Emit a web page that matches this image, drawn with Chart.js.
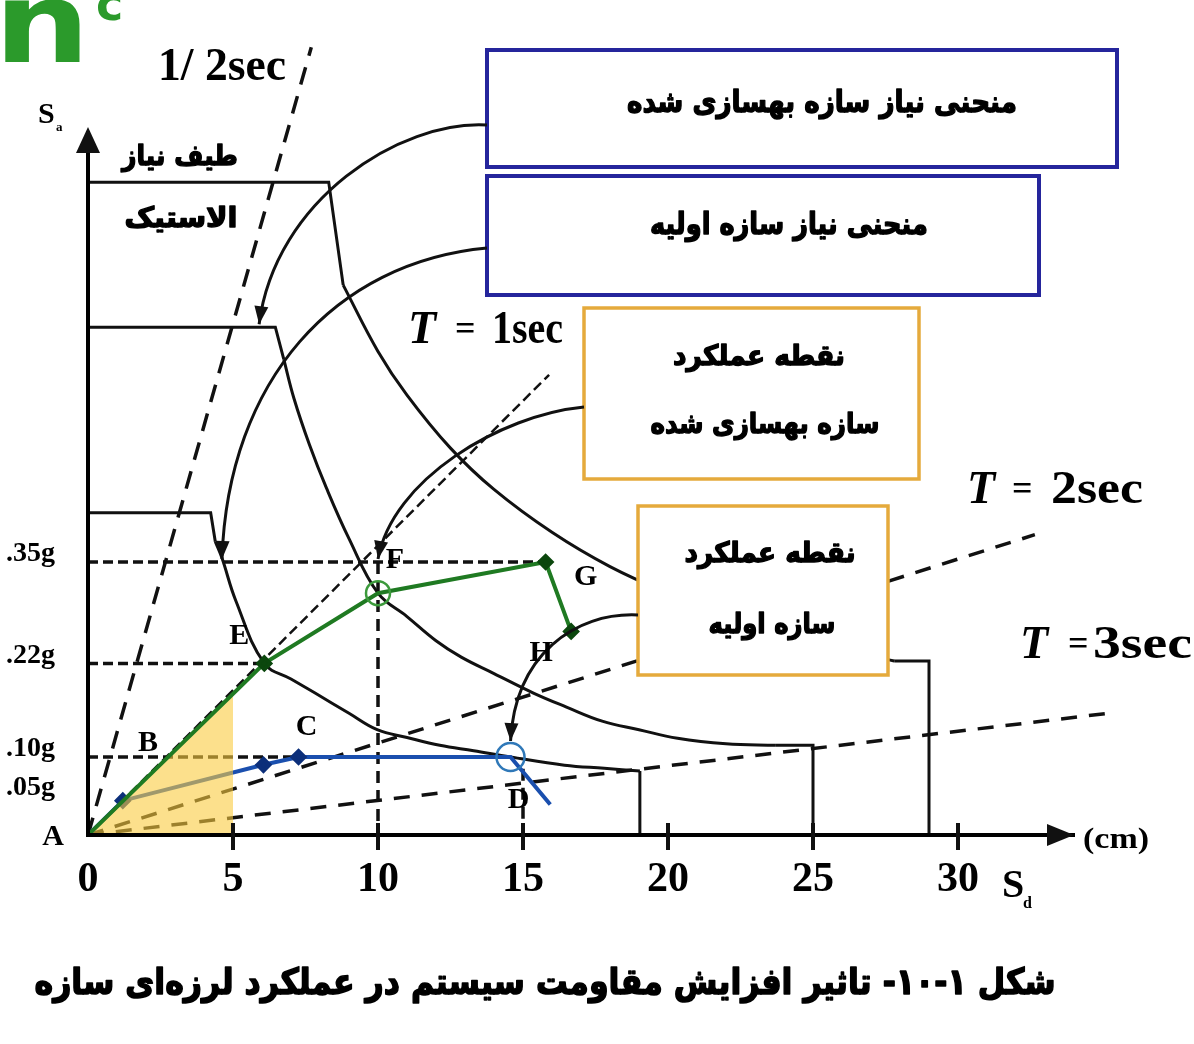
<!DOCTYPE html>
<html lang="fa">
<head>
<meta charset="utf-8">
<title>Sa - Sd</title>
<script src="https://cdn.jsdelivr.net/npm/chart.js@4.4.1/dist/chart.umd.min.js"></script>
<style>
  html, body { margin: 0; padding: 0; background: #ffffff; }
  canvas { display: block; }
</style>
</head>
<body>
<canvas id="chart" width="1194" height="1044"></canvas>
<script>
// Axis ticks
const xTickValues = [0, 5, 10, 15, 20, 25, 30];
const yTickValues = [0.05, 0.10, 0.22, 0.35];
const yTickLabels = ['.05g', '.10g', '.22g', '.35g'];

// Elastic demand spectrum (Sd in cm, Sa in g)
const elasticSd = [0, 8.3, 8.8, 10, 11, 12.5, 14, 16, 18, 20, 22, 24, 26, 27.8, 29, 29];
const elasticSa = [0.837, 0.837, 0.705, 0.62, 0.564, 0.496, 0.443, 0.388, 0.344, 0.31, 0.282, 0.258, 0.238, 0.223, 0.223, 0];

// Demand curve of the retrofitted structure
const retrofitDemandSd = [0, 6.46, 6.75, 7.1, 7.64, 8.22, 9.0, 10, 11, 12, 12.87, 14, 15.36, 16.5, 17.73, 19, 20.33, 22, 23.72, 25, 25];
const retrofitDemandSa = [0.651, 0.651, 0.61, 0.56, 0.50, 0.445, 0.38, 0.31, 0.28, 0.249, 0.228, 0.207, 0.182, 0.164, 0.146, 0.135, 0.124, 0.117, 0.115, 0.115, 0];

// Demand curve of the initial structure
const initialDemandSd = [0, 4.23, 4.39, 4.62, 5.1, 6.08, 7.0, 7.83, 9.0, 9.97, 11, 12.13, 13.3, 14.57, 16.43, 17.8, 19.03, 19.03];
const initialDemandSa = [0.413, 0.413, 0.376, 0.355, 0.30, 0.22, 0.20, 0.182, 0.156, 0.135, 0.125, 0.115, 0.108, 0.10, 0.0895, 0.0855, 0.082, 0];

// Capacity curves
const capacityRetrofitSd = [0, 6.08, 10, 15.78, 16.66];
const capacityRetrofitSa = [0, 0.22, 0.31, 0.35, 0.261];
const capacityInitialSd = [0, 1.2, 6.05, 7.26, 14.57, 15.94];
const capacityInitialSa = [0, 0.044, 0.09, 0.10, 0.10, 0.039];

// Constant-period radial lines (end points, from the origin)
const periodNames = ['1/2sec', '1sec', '2sec', '3sec'];
const periodEndSd = [7.7, 15.9, 32.65, 35.4];
const periodEndSa = [1.01, 0.59, 0.385, 0.157];

// Horizontal reference levels and vertical guide lines
const levelSa = [0.35, 0.22, 0.10];
const levelEndSd = [15.78, 6.08, 7.26];
const guideSd = [10, 15];
const guideTopSa = [0.35, 0.085];

// Shaded area under the capacity curve up to Sd = 5 cm
const shadedSd = [0, 5];
const shadedSa = [0, 0.181];

// Performance points (retrofitted, initial)
const performanceSd = [10, 14.57];
const performanceSa = [0.31, 0.10];

// Point letters and the values they sit next to
const letterNames = ['A', 'B', 'C', 'D', 'E', 'F', 'G', 'H'];
const letterSd = [0, 2.76, 7.26, 14.57, 6.08, 10, 15.78, 16.66];
const letterSa = [0, 0.10, 0.10, 0.10, 0.22, 0.35, 0.35, 0.261];

const pts = (xs, ys) => xs.map((x, i) => ({ x: x, y: ys[i] }));

const INK = '#111111';
const GREEN = '#1f7a22';
const BLUE = '#1a4fae';

const datasets = [];

// each spectrum: straight plateau and drop, smooth descending branch, straight end
function addSpectrum(name, sd, sa, curveFrom, curveTo) {
  const all = pts(sd, sa);
  const base = { borderColor: INK, borderWidth: 3, pointRadius: 0, fill: false, order: 5 };
  datasets.push(Object.assign({ label: name + ' plateau', data: all.slice(0, curveFrom + 1), tension: 0 }, base));
  datasets.push(Object.assign({ label: name, data: all.slice(curveFrom, curveTo + 1), tension: 0.4 }, base));
  datasets.push(Object.assign({ label: name + ' end', data: all.slice(curveTo), tension: 0 }, base));
}
addSpectrum('elastic', elasticSd, elasticSa, 2, 13);
addSpectrum('retrofit demand', retrofitDemandSd, retrofitDemandSa, 2, 18);
addSpectrum('initial demand', initialDemandSd, initialDemandSa, 2, 16);

const periodDash = [[18, 12], [10, 5], [16, 12], [16, 12]];
const periodWidth = [3.5, 2.5, 3.5, 3.5];
periodNames.forEach((name, i) => {
  datasets.push({
    label: 'T = ' + name,
    data: [{ x: 0, y: 0 }, { x: periodEndSd[i], y: periodEndSa[i] }],
    borderColor: INK, borderWidth: periodWidth[i], borderDash: periodDash[i],
    pointRadius: 0, fill: false, clip: false, order: 6
  });
});

levelSa.forEach((sa, i) => {
  datasets.push({
    label: 'level ' + sa,
    data: [{ x: 0, y: sa }, { x: levelEndSd[i], y: sa }],
    borderColor: INK, borderWidth: 3.5, borderDash: [10, 5],
    pointRadius: 0, fill: false, order: 6
  });
});

guideSd.forEach((sd, i) => {
  datasets.push({
    label: 'guide ' + sd,
    data: [{ x: sd, y: guideTopSa[i] }, { x: sd, y: 0 }],
    borderColor: INK, borderWidth: 3.5, borderDash: [12, 7],
    pointRadius: 0, fill: false, order: 6
  });
});

datasets.push({
  label: 'initial capacity',
  data: pts(capacityInitialSd, capacityInitialSa),
  borderColor: BLUE, borderWidth: 4, fill: false, order: 2,
  pointStyle: 'rectRot', pointBackgroundColor: '#0c2f7a', pointBorderColor: '#0c2f7a',
  pointRadius: c => ([1, 2, 3].includes(c.dataIndex) ? 6 : 0)
});

datasets.push({
  label: 'shaded',
  data: pts(shadedSd, shadedSa),
  borderColor: 'rgba(0,0,0,0)', borderWidth: 0, pointRadius: 0,
  fill: 'origin', backgroundColor: 'rgba(250,204,64,0.6)', order: 1
});

datasets.push({
  label: 'retrofit capacity',
  data: pts(capacityRetrofitSd, capacityRetrofitSa),
  borderColor: GREEN, borderWidth: 4, fill: false, order: 0,
  pointStyle: 'rectRot', pointBackgroundColor: '#0b470d', pointBorderColor: '#0b470d',
  pointRadius: c => ([1, 3, 4].includes(c.dataIndex) ? 6 : 0)
});

datasets.push({
  label: 'performance points',
  data: pts(performanceSd, performanceSa),
  showLine: false, order: -1,
  pointStyle: 'circle', pointRadius: [12, 14], pointBorderWidth: 2.5,
  pointBorderColor: ['#3c9a3c', '#2f78b8'], pointBackgroundColor: 'rgba(0,0,0,0)'
});

// ---------- drawing helpers ----------
function putText(ctx, str, x, y, font, o) {
  o = o || {};
  ctx.save();
  ctx.font = font;
  ctx.fillStyle = o.color || '#000';
  ctx.textBaseline = o.baseline || 'alphabetic';
  ctx.direction = o.rtl ? 'rtl' : 'ltr';
  ctx.textAlign = o.align || 'left';
  ctx.translate(x, y);
  if (o.width) {
    const w = ctx.measureText(str).width;
    if (w > 0) ctx.scale(o.width / w, 1);
  }
  if (o.heavy) {
    ctx.strokeStyle = o.color || '#000';
    ctx.lineWidth = o.heavy;
    ctx.lineJoin = 'round';
    ctx.strokeText(str, 0, 0);
  }
  ctx.fillText(str, 0, 0);
  ctx.restore();
}

function arrowHead(ctx, x, y, fromX, fromY, len, half) {
  const a = Math.atan2(y - fromY, x - fromX);
  const c = Math.cos(a), s = Math.sin(a);
  ctx.beginPath();
  ctx.moveTo(x, y);
  ctx.lineTo(x - len * c + half * s, y - len * s - half * c);
  ctx.lineTo(x - len * c - half * s, y - len * s + half * c);
  ctx.closePath();
  ctx.fill();
}

function curvedArrow(ctx, sx, sy, c1x, c1y, c2x, c2y, ex, ey) {
  ctx.strokeStyle = INK;
  ctx.fillStyle = INK;
  ctx.lineWidth = 3;
  ctx.beginPath();
  ctx.moveTo(sx, sy);
  ctx.bezierCurveTo(c1x, c1y, c2x, c2y, ex, ey);
  ctx.stroke();
  arrowHead(ctx, ex, ey, c2x, c2y, 18, 7);
}

function frame(ctx, x0, y0, x1, y1, color, lw) {
  ctx.fillStyle = '#ffffff';
  ctx.fillRect(x0, y0, x1 - x0, y1 - y0);
  ctx.strokeStyle = color;
  ctx.lineWidth = lw;
  ctx.strokeRect(x0, y0, x1 - x0, y1 - y0);
}

const SERIF = '"Liberation Serif", "Times New Roman", serif';
const FA = '"DejaVu Sans", sans-serif';

const annotations = {
  id: 'annotations',
  afterDraw(chart) {
    const ctx = chart.ctx;
    const xs = chart.scales.x, ys = chart.scales.y;
    const area = chart.chartArea;
    const px = v => xs.getPixelForValue(v);
    const py = v => ys.getPixelForValue(v);

    ctx.save();
    ctx.fillStyle = INK;
    ctx.strokeStyle = INK;

    // axis arrows
    arrowHead(ctx, area.right, area.bottom, area.right - 30, area.bottom, 27, 11);
    arrowHead(ctx, area.left, area.top - 6, area.left, area.top + 30, 26, 12);
    ctx.fillRect(area.left - 2, area.top, 4, 10);

    // tick marks across the Sd axis
    ctx.lineWidth = 4;
    xTickValues.forEach(v => {
      if (v === 0) return;
      ctx.beginPath();
      ctx.moveTo(px(v), area.bottom - 12);
      ctx.lineTo(px(v), area.bottom + 15);
      ctx.stroke();
    });

    // text boxes
    frame(ctx, 487, 50, 1117, 167, '#25259c', 4);
    frame(ctx, 487, 176, 1039, 295, '#25259c', 4);
    frame(ctx, 584, 308, 919, 479, '#e5aa3c', 3.5);
    frame(ctx, 638, 506, 888, 675, '#e5aa3c', 3.5);

    const fa = { rtl: true, align: 'center', baseline: 'middle', heavy: 1.4 };
    putText(ctx, 'منحنی نیاز سازه بهسازی شده', 822, 104, 'bold 30px ' + FA, Object.assign({ width: 390 }, fa));
    putText(ctx, 'منحنی نیاز سازه اولیه', 789, 226, 'bold 30px ' + FA, Object.assign({ width: 278 }, fa));
    putText(ctx, 'نقطه عملکرد', 759, 358, 'bold 28px ' + FA, Object.assign({ width: 172 }, fa));
    putText(ctx, 'سازه بهسازی شده', 765, 426, 'bold 28px ' + FA, Object.assign({ width: 229 }, fa));
    putText(ctx, 'نقطه عملکرد', 770, 555, 'bold 28px ' + FA, Object.assign({ width: 171 }, fa));
    putText(ctx, 'سازه اولیه', 772, 626, 'bold 28px ' + FA, Object.assign({ width: 127 }, fa));

    // curved leader arrows from the boxes
    curvedArrow(ctx, 487, 125, 400, 120, 275, 200, px(5.9), py(0.651) - 3);
    curvedArrow(ctx, 487, 248, 335, 262, 228, 380, px(4.62), py(0.35) - 3);
    curvedArrow(ctx, 584, 407, 500, 415, 392, 480, px(10), py(0.35) - 3);
    curvedArrow(ctx, 638, 615, 575, 612, 515, 655, px(14.57), py(0.10) - 16);

    // spectrum captions
    putText(ctx, 'طیف نیاز', 180, 158, 'bold 28px ' + FA, Object.assign({ width: 116 }, fa));
    putText(ctx, 'الاستیک', 181, 220, 'bold 28px ' + FA, Object.assign({ width: 113 }, fa));

    // period captions
    putText(ctx, '1/ 2sec', 158, 80, 'bold 46px ' + SERIF, { width: 128 });
    const tLabel = (tx, base, eqx, numx, numw, num) => {
      putText(ctx, 'T', tx, base, 'italic bold 46px ' + SERIF);
      putText(ctx, '=', eqx, base - 3, 'bold 36px ' + SERIF);
      putText(ctx, num, numx, base, 'bold 46px ' + SERIF, { width: numw });
    };
    tLabel(408, 343, 455, 492, 71, '1sec');
    tLabel(967, 503, 1012, 1051, 92, '2sec');
    tLabel(1020, 658, 1068, 1093, 99, '3sec');

    // axis captions
    putText(ctx, 'S', 38, 123, 'bold 30px ' + SERIF);
    putText(ctx, 'a', 56, 131, 'bold 13px ' + SERIF);
    putText(ctx, 'S', 1002, 897, 'bold 40px ' + SERIF);
    putText(ctx, 'd', 1023, 908, 'bold 16px ' + SERIF);
    putText(ctx, '(cm)', 1083, 848, 'bold 30px ' + SERIF, { width: 66 });

    // point letters
    const letterOffset = [[-35, 2], [-20, -14], [8, -30], [8, 43], [-25, -27], [17, -2], [40, 15], [-30, 22]];
    letterNames.forEach((s, i) => {
      putText(ctx, s, px(letterSd[i]) + letterOffset[i][0], py(letterSa[i]) + letterOffset[i][1],
        'bold 30px ' + SERIF, { align: 'center', baseline: 'middle' });
    });

    // figure caption
    putText(ctx, 'شکل ۱-۱۰- تاثیر افزایش مقاومت سیستم در عملکرد لرزه‌ای سازه', 545, 985,
      'bold 36px ' + FA, { rtl: true, align: 'center', baseline: 'middle', width: 1021, heavy: 1.6 });

    // green mark in the corner
    putText(ctx, 'n', -6, 62, 'bold 112px ' + FA, { color: '#2b9a2b', width: 96 });
    putText(ctx, 'c', 96, 20, 'bold 46px ' + FA, { color: '#2b9a2b' });

    ctx.restore();
  }
};

new Chart(document.getElementById('chart'), {
  type: 'line',
  data: { datasets: datasets },
  options: {
    responsive: false,
    animation: false,
    devicePixelRatio: 1,
    events: [],
    layout: { padding: { top: 133, right: 120, bottom: 0, left: 0 } },
    plugins: { legend: { display: false }, tooltip: { enabled: false } },
    scales: {
      x: {
        type: 'linear', min: 0, max: 34,
        afterBuildTicks: s => { s.ticks = xTickValues.map(v => ({ value: v })); },
        afterFit: s => { s.height = 209; },
        grid: { display: false, drawTicks: false },
        border: { display: true, color: '#000', width: 4, z: 1 },
        ticks: {
          autoSkip: false, maxRotation: 0, padding: 20, color: '#000',
          font: { family: SERIF, size: 42, weight: 'bold' }
        }
      },
      y: {
        type: 'linear', min: 0, max: 0.9,
        afterBuildTicks: s => { s.ticks = yTickValues.map(v => ({ value: v })); },
        afterFit: s => { s.width = 88; },
        grid: { display: false, drawTicks: false },
        border: { display: true, color: '#000', width: 4, z: 1 },
        ticks: {
          autoSkip: false, padding: 33, labelOffset: -8, color: '#000',
          font: { family: SERIF, size: 28, weight: 'bold' },
          callback: v => yTickLabels[yTickValues.indexOf(v)]
        }
      }
    }
  },
  plugins: [annotations]
});
</script>
</body>
</html>
